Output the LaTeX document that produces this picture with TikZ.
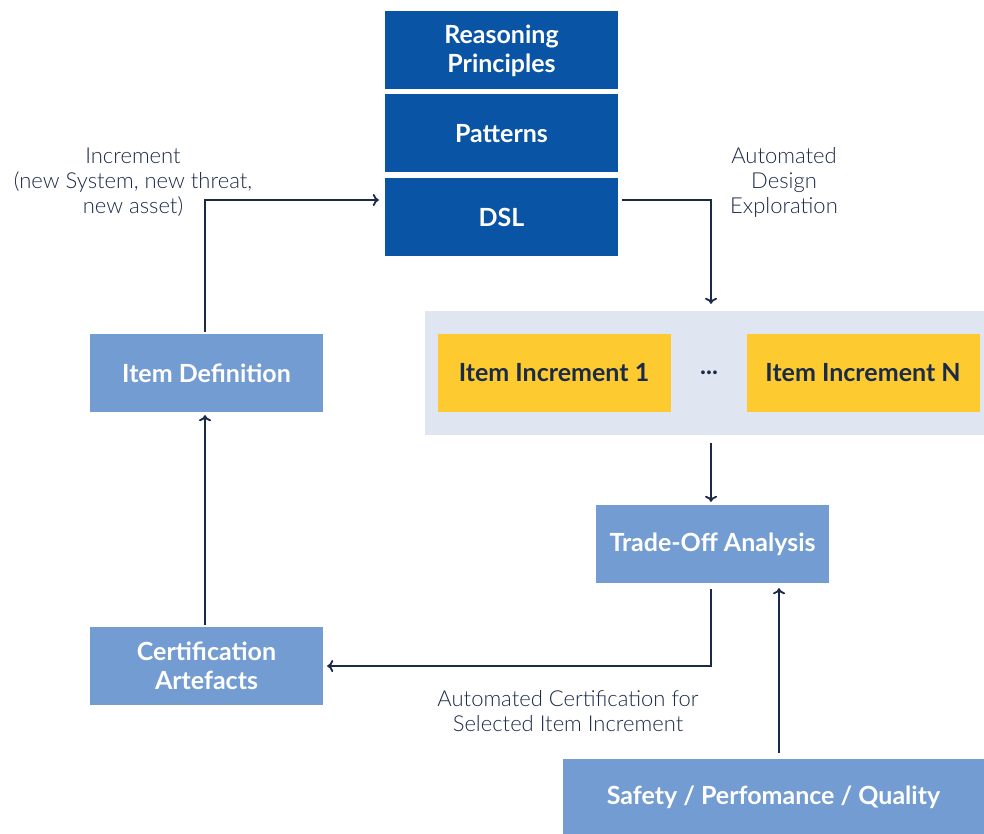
\documentclass[tikz,border=0pt]{standalone}
\usepackage{fontspec}
\setmainfont{Lato}
\newfontfamily\lightfont{Lato Light}
\usetikzlibrary{arrows.meta}
\definecolor{darkblue}{HTML}{0A54A5}
\definecolor{midblue}{HTML}{729CD2}
\definecolor{paleblue}{HTML}{DFE6F2}
\definecolor{gold}{HTML}{FDCB30}
\definecolor{navy}{HTML}{1B2A47}
\begin{document}
\begin{tikzpicture}[x=1pt,y=-1pt,
  box/.style={rectangle, inner sep=0pt, minimum width=233pt, minimum height=78pt, align=center, font=\fontsize{25}{29}\selectfont\bfseries},
  topbox/.style={box, fill=darkblue, text=white},
  midbox/.style={box, fill=midblue, text=white},
  goldbox/.style={box, fill=gold, text=navy},
  lbl/.style={align=center, text=navy, font=\lightfont\fontsize{22}{25}\selectfont},
  conn/.style={draw=navy, line width=1.8pt, -{To[length=6pt,width=12pt]}}
]
\useasboundingbox (0,0) rectangle (984,834);
\node[topbox] (rp) at (501.5,50.5) {Reasoning\\Principles};
\node[topbox] (pat) at (501.5,133.5) {Patterns};
\node[topbox] (dsl) at (501.5,217) {DSL};
\node[midbox] (idef) at (206.5,373) {Item Definition};
\node[rectangle, fill=paleblue, minimum width=559pt, minimum height=124pt, inner sep=0pt] (bg) at (704.5,373) {};
\node[goldbox] (inc1) at (554,373) {Item Increment 1};
\node[goldbox] (incn) at (863,373) {Item Increment N};
\node[text=navy, font=\fontsize{25}{29}\selectfont\bfseries] (dots) at (709,373) {...};
\node[midbox] (toa) at (712.5,544) {Trade-Off Analysis};
\node[midbox] (cert) at (206.5,666) {Certification\\Artefacts};
\node[midbox, minimum width=421pt, minimum height=76pt] (spq) at (773.5,797) {Safety / Perfomance / Quality};
\node[lbl] (l1) at (133,182) {Increment\\(new System, new threat,\\new asset)};
\node[lbl] (l2) at (784,182) {Automated\\Design\\Exploration};
\node[lbl] (l3) at (568,711) {Automated Certification for\\Selected Item Increment};
\coordinate (c1) at (205,200);
\coordinate (c2) at (711,200);
\coordinate (c3) at (711,666);
\coordinate (c4) at (779,0);
\draw[conn] ([yshift=2pt]idef.north -| c1) -- (c1) -- ([xshift=-6pt]dsl.west |- c1);
\draw[conn] ([xshift=4pt]dsl.east |- c2) -- (c2) -- ([yshift=7pt]bg.north -| c2);
\draw[conn] ([yshift=-8pt]bg.south -| c2) -- ([yshift=3pt]toa.north -| c2);
\draw[conn] ([yshift=-6pt]toa.south -| c3) -- (c3) -- ([xshift=4pt]cert.east |- c3);
\draw[conn] ([yshift=2pt]cert.north -| c1) -- ([yshift=-3pt]idef.south -| c1);
\draw[conn] ([yshift=6pt]spq.north -| c4) -- ([yshift=-5pt]toa.south -| c4);
\end{tikzpicture}
\end{document}
